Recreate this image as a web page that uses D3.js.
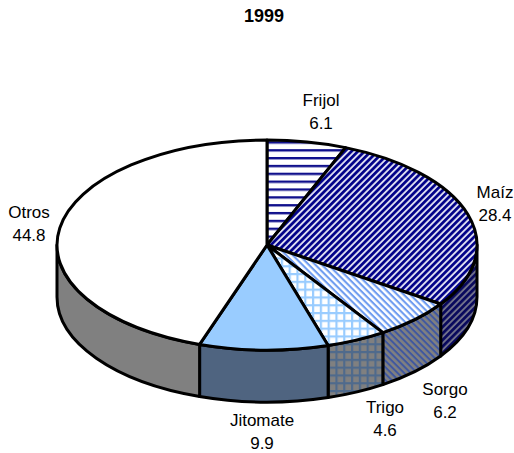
<!DOCTYPE html>
<html><head><meta charset="utf-8">
<script src="https://cdn.jsdelivr.net/npm/d3@7"></script>
<style>html,body{margin:0;padding:0;background:#fff}svg{display:block}text{font-family:"Liberation Sans",Arial,sans-serif;font-size:17px;fill:#000}</style>
</head><body><script>
const chartTitle = "1999";
const categories = ["Frijol","Maíz","Sorgo","Trigo","Jitomate","Otros"];
const values = [6.1,28.4,6.2,4.6,9.9,44.8];
const labelAnchors = [[321,106],[495,198],[445,395],[385,413],[262,426],[29,218]];
const sliceStyles = ["hlines","diagNavy","diagLight","grid","solidBlue","white"];

const W=514,H=453,cx=267,cy=245,rx=210,ry=105,depth=52;
const svg=d3.select("body").append("svg").attr("width",W).attr("height",H);
const defs=svg.append("defs");

function pattern(id,w,h,bg,lines,rot){
  const p=defs.append("pattern").attr("id",id).attr("patternUnits","userSpaceOnUse").attr("width",w).attr("height",h);
  if(rot) p.attr("patternTransform",`rotate(${rot})`);
  p.append("rect").attr("width",w).attr("height",h).attr("fill",bg);
  lines.forEach(l=>p.append("rect").attr("x",l[0]).attr("y",l[1]).attr("width",l[2]).attr("height",l[3]).attr("fill",l[4]));
}
const navy="#10108c",light="#99ccff",navyD="#1b1b80",lightD="#4f6a8c";
pattern("hlines",8,7.85,"#fff",[[0,0,8,2.4,navy]]);
pattern("diagNavy",8,4.6,"#dcdcf0",[[0,0,8,2.7,"#000088"]],-45);
pattern("diagLight",8,4.6,"#fff",[[0,0,8,2.1,"#6f9cf0"]],45);
pattern("grid",7.8,7.8,"#fff",[[0,0,7.8,2.2,light],[0,0,2.2,7.8,light]]);
pattern("hlinesD",8,8,"#808080",[[0,0,8,2,navyD]]);
pattern("diagNavyD",8,4.6,"#70708a",[[0,0,8,2.7,"#08085c"]],-45);
pattern("diagLightD",8,4.6,"#808080",[[0,0,8,2,"#3f57a0"]],45);
pattern("gridD",7.8,7.8,"#808080",[[0,0,7.8,2.2,lightD],[0,0,2.2,7.8,lightD]]);

const fillTop={hlines:"url(#hlines)",diagNavy:"url(#diagNavy)",diagLight:"url(#diagLight)",grid:"url(#grid)",solidBlue:"#99ccff",white:"#fff"};
const fillSide={hlines:"url(#hlinesD)",diagNavy:"url(#diagNavyD)",diagLight:"url(#diagLightD)",grid:"url(#gridD)",solidBlue:"#4f6480",white:"#808080"};

const pie=d3.pie().sort(null).value(d=>d.v);
const arcs=pie(categories.map((c,i)=>({c,v:values[i],s:sliceStyles[i]})));
const px=a=>cx+rx*Math.sin(a), py=a=>cy-ry*Math.cos(a);

const lo=Math.PI/2, hi=3*Math.PI/2;
const sides=svg.append("g");
arcs.forEach(d=>{
  const a=Math.max(d.startAngle,lo), b=Math.min(d.endAngle,hi);
  if(b<=a) return;
  const path=`M${px(a)},${py(a)}A${rx},${ry} 0 0 1 ${px(b)},${py(b)}L${px(b)},${py(b)+depth}A${rx},${ry} 0 0 0 ${px(a)},${py(a)+depth}Z`;
  sides.append("path").attr("d",path).attr("fill",fillSide[d.data.s]).attr("stroke","#000").attr("stroke-width",3).attr("stroke-linejoin","round");
});
const tops=svg.append("g");
arcs.forEach(d=>{
  const a=d.startAngle,b=d.endAngle,large=b-a>Math.PI?1:0;
  const path=`M${cx},${cy}L${px(a)},${py(a)}A${rx},${ry} 0 ${large} 1 ${px(b)},${py(b)}Z`;
  tops.append("path").attr("d",path).attr("fill",fillTop[d.data.s]).attr("stroke","#000").attr("stroke-width",3).attr("stroke-linejoin","round");
});

svg.append("text").attr("x",264).attr("y",22).attr("text-anchor","middle").style("font-weight","bold").style("font-size","18px").text(chartTitle);
categories.forEach((c,i)=>{
  const [x,y]=labelAnchors[i];
  const t=svg.append("text").attr("text-anchor","middle");
  t.append("tspan").attr("x",x).attr("y",y).text(c);
  t.append("tspan").attr("x",x).attr("y",y+23).text(values[i].toFixed(1));
});
</script></body></html>
